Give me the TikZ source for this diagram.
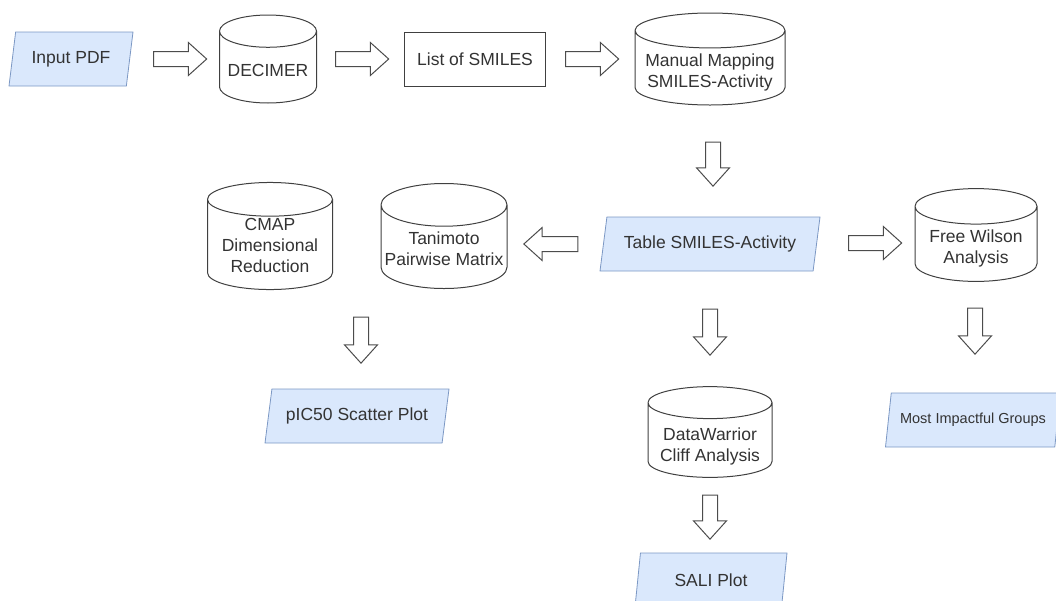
\documentclass[tikz,border=0pt]{standalone}
\usepackage{fontspec}
\setmainfont{Liberation Sans}
\usepackage{tikz}
\usetikzlibrary{arrows,calc,positioning,shapes.geometric,shapes.arrows}
\definecolor{iofill}{HTML}{DAE8FC}
\definecolor{iodraw}{HTML}{7C98C4}
\definecolor{txtgrey}{HTML}{333333}

\begin{document}
\begin{tikzpicture}[x=1pt,y=-1pt,
  font=\fontsize{17.5}{21}\selectfont, text=txtgrey,
  io/.style={trapezium, trapezium left angle=67, trapezium right angle=113,
    trapezium stretches body, fill=iofill, draw=iodraw, line width=0.8pt,
    minimum height=54pt, inner sep=0pt},
  db/.style={cylinder, shape border rotate=90, aspect=0.4, draw=black!75,
    line width=1pt, align=center, inner sep=0pt, anchor=shape center,
    text depth=0pt},
  box/.style={rectangle, draw=black!75, line width=1pt,
    minimum width=141pt, minimum height=54pt},
  bigarrow/.style={single arrow, draw=black!70, line width=1pt, fill=white,
    minimum width=32pt, single arrow head extend=9pt, inner xsep=0pt,
    inner ysep=7pt, single arrow tip angle=84, minimum height=53pt},
]
\useasboundingbox (0,0) rectangle (1056,600);

% top row
\node[io, minimum width=124pt] (pdf) at (71,59) {Input PDF};
\node[db, minimum width=97pt, minimum height=88pt, text height=18pt] (decimer) at (268,59) {DECIMER};
\node[box] (smiles) at (475,59) {List of SMILES};
\node[db, minimum width=150pt, minimum height=88pt, aspect=0.27,
  text height=39.1pt] (mapping) at (710,59) {Manual Mapping\\SMILES-Activity};

% middle row
\node[io, minimum width=220pt] (table) at (710,244) {Table SMILES-Activity};
\node[db, minimum width=126pt, minimum height=105pt, aspect=0.36,
  text height=37.8pt] (tanimoto) at (444,236) {Tanimoto\\Pairwise Matrix};
\node[db, minimum width=125pt, minimum height=105pt, aspect=0.35,
  text height=56pt] (cmap) at (270,236) {CMAP\\Dimensional\\Reduction};
\node[db, minimum width=122pt, minimum height=90pt, aspect=0.38,
  text height=39.1pt] (wilson) at (976,235) {Free Wilson\\Analysis};

% bottom rows
\node[io, minimum width=184pt] (scatter) at (357,416) {pIC50 Scatter Plot};
\node[db, minimum width=124pt, minimum height=87pt, aspect=0.32,
  text height=42.3pt] (warrior) at (710,432) {DataWarrior\\Cliff Analysis};
\node[io, minimum width=152pt] (sali) at (711,580) {SALI Plot};
\node[io, minimum width=175pt, font=\fontsize{14.5}{17}\selectfont] (groups) at (973,420) {Most Impactful Groups};

% block arrows
\node[bigarrow] (a-pdf) at (176,59) {};
\node[bigarrow] (a-decimer) at (358,59) {};
\node[bigarrow] (a-smiles) at (588,59) {};
\node[bigarrow, rotate=-90, minimum height=44pt] (a-mapping) at (713,160) {};
\node[bigarrow, rotate=180, minimum height=54pt] (a-tanimoto) at (555,244) {};
\node[bigarrow] (a-wilson) at (871,243) {};
\node[bigarrow, rotate=-90, minimum height=46pt] (a-scatter) at (361,336) {};
\node[bigarrow, rotate=-90, minimum height=46pt] (a-warrior) at (710,328) {};
\node[bigarrow, rotate=-90, minimum height=46pt] (a-groups) at (975,327) {};
\node[bigarrow, rotate=-90, minimum height=44pt] (a-sali) at (710,513) {};
\end{tikzpicture}
\end{document}
